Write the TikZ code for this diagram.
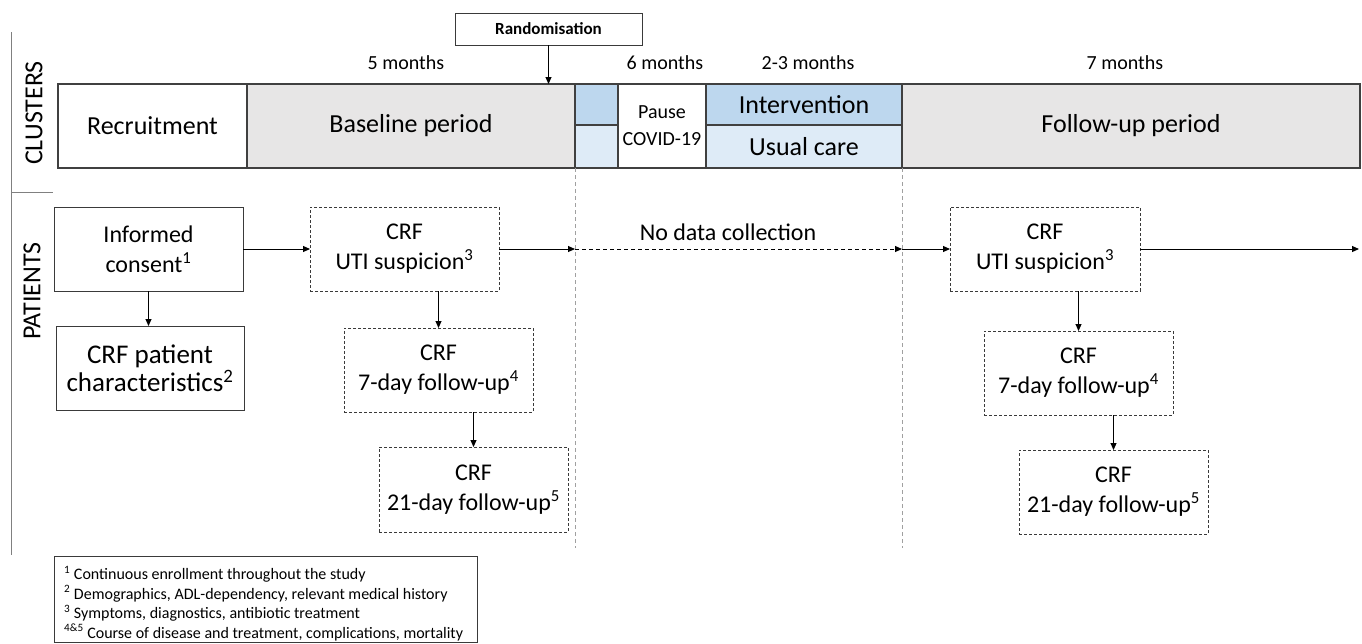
\documentclass[tikz,border=0pt]{standalone}
\usepackage{fontspec}
\setmainfont{Carlito}
\usetikzlibrary{arrows.meta}
\definecolor{barline}{HTML}{404040}
\definecolor{greyfill}{HTML}{E7E6E6}
\definecolor{bluetop}{HTML}{BDD7EE}
\definecolor{bluebot}{HTML}{DEEBF7}
\definecolor{dashgrey}{HTML}{A0A0A0}
\definecolor{frameline}{HTML}{808080}
\definecolor{boxline}{HTML}{3A3A3A}
\tikzset{
  seg/.style={draw=barline, line width=1.2pt, inner sep=0pt, outer sep=0pt, anchor=north west, align=center, font=\fontsize{26}{30}\selectfont},
  pbox/.style={draw=boxline, line width=1pt, inner sep=0pt, outer sep=0pt, anchor=north west, align=center, font=\fontsize{24}{30}\selectfont},
  dbox/.style={pbox, dash pattern=on 3pt off 2pt},
  lab/.style={font=\fontsize{20}{24}\selectfont, inner sep=0pt},
  conn/.style={draw=black, line width=1pt, -{Triangle[length=7pt,width=6pt]}},
  sepline/.style={draw=dashgrey, line width=0.9pt, dash pattern=on 4pt off 3pt},
}
\begin{document}
\begin{tikzpicture}[x=1pt,y=-1pt]
\useasboundingbox (0,0) rectangle (1362,643);
% side labels and frame
\draw[draw=frameline, line width=1pt] (11,32) -- (11,555);
\draw[draw=frameline, line width=1pt] (11,192) -- (53,192);
\node[rotate=90, font=\fontsize{26}{30}\selectfont, inner sep=0pt] (clusters) at (34,113) {CLUSTERS};
\node[rotate=90, font=\fontsize{26}{30}\selectfont, inner sep=0pt] (patients) at (32,291) {PATIENTS};
% timeline bar
\node[seg, fill=white, minimum width=189pt, minimum height=84pt] (rec) at (58,84) {Recruitment};
\node[seg, fill=greyfill, minimum width=328pt, minimum height=84pt] (base) at (247,84) {Baseline period};
\node[seg, fill=bluetop, minimum width=43pt, minimum height=41pt] (smtop) at (575,84) {};
\node[seg, fill=bluebot, minimum width=43pt, minimum height=43pt] (smbot) at (575,125) {};
\node[seg, fill=white, minimum width=88pt, minimum height=84pt, font=\fontsize{20}{27}\selectfont] (pause) at (618,84) {Pause\\COVID-19};
\node[seg, fill=bluetop, minimum width=196pt, minimum height=41pt] (interv) at (706,84) {Intervention};
\node[seg, fill=bluebot, minimum width=196pt, minimum height=43pt] (usual) at (706,125) {Usual care};
\node[seg, fill=greyfill, minimum width=458pt, minimum height=84pt] (follow) at (902,84) {Follow-up period};
% durations
\node[lab] (m5) at (406,63) {5 months};
\node[lab] (m6) at (665,63) {6 months};
\node[lab] (m23) at (808,63) {2-3 months};
\node[lab] (m7) at (1125,63) {7 months};
% randomisation
\node[draw=boxline, line width=1pt, inner sep=0pt, outer sep=0pt, anchor=north west, minimum width=187pt, minimum height=32pt, font=\fontsize{17}{20}\selectfont\bfseries] (rand) at (455,13) {Randomisation};
\draw[conn] (rand.south) -- (rand.south |- base.north);
% vertical separators
\coordinate (s1top) at (575,168);
\coordinate (s1bot) at (575,548);
\coordinate (s2top) at (902,168);
\coordinate (s2bot) at (902,548);
\draw[sepline] (s1top) -- (s1bot);
\draw[sepline] (s2top) -- (s2bot);
% patient boxes
\node[pbox, minimum width=189pt, minimum height=84pt] (consent) at (54,207) {Informed\\consent\textsuperscript{1}};
\node[pbox, minimum width=188pt, minimum height=84pt, font=\fontsize{27}{28}\selectfont] (crfpat) at (56,326) {CRF patient\\characteristics\textsuperscript{2}};
\node[dbox, minimum width=189pt, minimum height=84pt] (uti1) at (310,207) {CRF\\UTI suspicion\textsuperscript{3}};
\node[dbox, minimum width=189pt, minimum height=84pt] (d7a) at (344,328) {CRF\\7-day follow-up\textsuperscript{4}};
\node[dbox, minimum width=189pt, minimum height=85pt] (d21a) at (379,447) {CRF\\21-day follow-up\textsuperscript{5}};
\node[dbox, minimum width=190pt, minimum height=84pt] (uti2) at (950,207) {CRF\\UTI suspicion\textsuperscript{3}};
\node[dbox, minimum width=189pt, minimum height=84pt] (d7b) at (984,331) {CRF\\7-day follow-up\textsuperscript{4}};
\node[dbox, minimum width=189pt, minimum height=84pt] (d21b) at (1019,450) {CRF\\21-day follow-up\textsuperscript{5}};
% connectors
\coordinate (p1) at (575,249);
\coordinate (p2) at (902,249);
\coordinate (pend) at (1359,249);
\draw[conn] (consent.south) -- (crfpat.north -| consent.south);
\draw[conn] (consent.east) -- (uti1.west);
\draw[conn] (uti1.east) -- (p1);
\draw[conn, dash pattern=on 4pt off 3pt] (p1) -- (p2);
\node[font=\fontsize{24}{28}\selectfont, inner sep=0pt] (nodata) at (728,232) {No data collection};
\draw[conn] (p2) -- (uti2.west);
\draw[conn] (uti2.east) -- (pend);
\draw[conn] (uti1.south -| d7a.north) -- (d7a.north);
\draw[conn] (d7a.south -| d21a.north) -- (d21a.north);
\draw[conn] (uti2.south -| d7b.north) -- (d7b.north);
\draw[conn] (d7b.south -| d21b.north) -- (d21b.north);
% footnotes
\node[draw=boxline, line width=1pt, inner sep=0pt, outer sep=0pt, anchor=north west, minimum width=423pt, minimum height=86pt] (notes) at (54,556) {};
\node[anchor=north west, align=left, inner sep=0pt, font=\fontsize{16}{19.5}\selectfont] (notetext) at (64,566) {\textsuperscript{1} Continuous enrollment throughout the study\\\textsuperscript{2} Demographics, ADL-dependency, relevant medical history\\\textsuperscript{3} Symptoms, diagnostics, antibiotic treatment\\\textsuperscript{4\&5} Course of disease and treatment, complications, mortality};
\end{tikzpicture}
\end{document}
